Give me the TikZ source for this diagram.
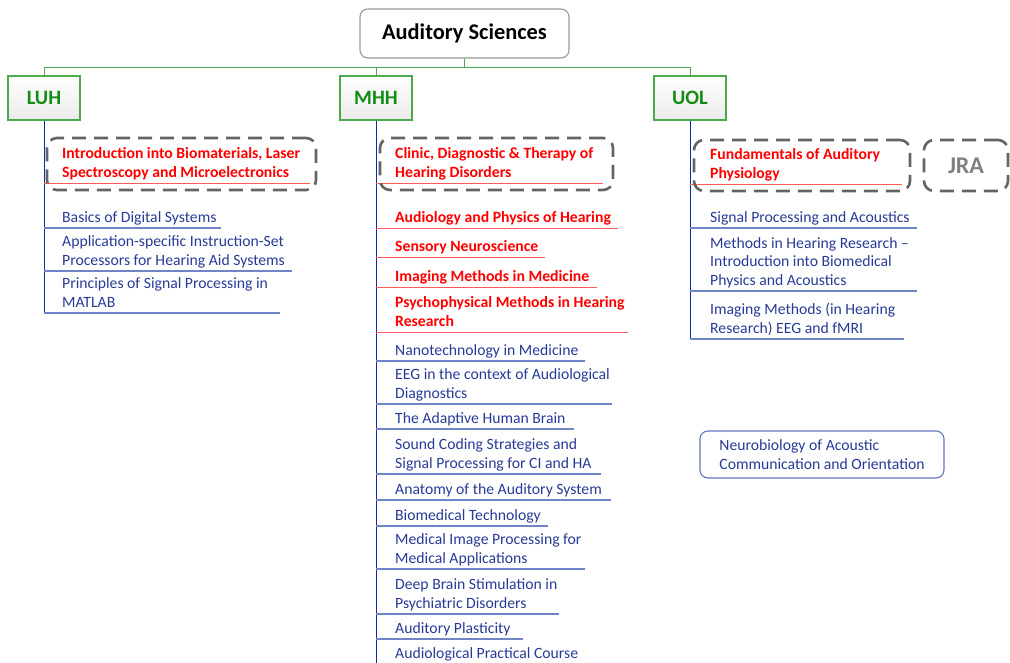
\documentclass[tikz,border=0pt]{standalone}
\usepackage{fontspec}
\setmainfont{Carlito}
\usetikzlibrary{positioning}

\definecolor{leafgreen}{RGB}{76,170,76}
\definecolor{unitext}{RGB}{20,140,20}
\definecolor{cooltxt}{RGB}{40,58,150}
\definecolor{coolrule}{RGB}{112,132,200}
\definecolor{trunkblue}{RGB}{20,40,170}
\definecolor{hottxt}{RGB}{255,0,0}
\definecolor{hotrule}{RGB}{255,90,90}
\definecolor{framegray}{RGB}{100,100,100}

\begin{document}
\begin{tikzpicture}[x=1pt, y=-1pt,
    head/.style={draw=gray!80, line width=1.1pt, rounded corners=8pt, fill=white,
      minimum width=209, minimum height=49, font=\fontsize{22.4}{26}\selectfont\bfseries},
    uni/.style={draw=leafgreen, line width=1.1pt, top color=white, bottom color=gray!16,
      minimum width=72, minimum height=44, text=unitext, font=\fontsize{20.4}{24}\selectfont\bfseries},
    branch/.style={draw=leafgreen, line width=1pt},
    trunk/.style={draw=trunkblue, line width=1pt},
    course/.style={anchor=south west, align=left, inner sep=0pt,
      font=\fontsize{15.7}{18.5}\selectfont,
      execute at end node={\rule[-5.5pt]{0pt}{5.5pt}}},
    hot/.style={course, text=hottxt, font=\fontsize{15.7}{18.5}\selectfont\bfseries},
    cool/.style={course, text=cooltxt},
    hotline/.style={draw=hotrule, line width=1pt},
    coolline/.style={draw=coolrule, line width=1.3pt},
    frame/.style={draw=framegray, line width=2.6pt, rounded corners=10pt,
      dash pattern=on 14pt off 8pt},
    boxed/.style={draw=coolrule!80!cooltxt, line width=1.1pt, rounded corners=8pt,
      text=cooltxt, align=left, font=\fontsize{15.7}{18.5}\selectfont}
  ]
\useasboundingbox (0,0) rectangle (1010,662);

% top of the tree
\node[head] (top) at (464.5,33.5) {Auditory Sciences};
\node[uni] (luh) at (44,98) {LUH};
\node[uni] (mhh) at (376,98) {MHH};
\node[uni] (uol) at (690,98) {UOL};

\draw[branch] (top.south) -- ++(0,9) -| (luh.north);
\draw[branch] (top.south) -- ++(0,9) -| (mhh.north);
\draw[branch] (top.south) -- ++(0,9) -| (uol.north);

% trunks
\coordinate (luhend) at (44,313);
\coordinate (mhhend) at (376,668);
\coordinate (uolend) at (690,339);
\draw[trunk] (luh.south) -- (luhend);
\draw[trunk] (mhh.south) -- (mhhend);
\draw[trunk] (uol.south) -- (uolend);

% LUH
\node[hot] (luh1) at (62,183) {Introduction into Biomaterials, Laser\\Spectroscopy and Microelectronics};
\draw[hotline] (luh1.south -| luh.south) -- (310,183);
\foreach \i/\y/\xe/\t in {
    2/228/221/{Basics of Digital Systems},
    3/271/292/{Application-specific Instruction-Set\\Processors for Hearing Aid Systems},
    4/313/280/{Principles of Signal Processing in\\MATLAB}} {
  \node[cool] (luh\i) at (62,\y) {\t};
  \draw[coolline] (luh\i.south -| luh.south) -- (\xe,\y);
}

% MHH
\foreach \i/\y/\xe/\t in {
    1/183/603/{Clinic, Diagnostic \& Therapy of\\Hearing Disorders},
    2/228/618/{Audiology and Physics of Hearing},
    3/257/545/{Sensory Neuroscience},
    4/287/597/{Imaging Methods in Medicine},
    5/332/628/{Psychophysical Methods in Hearing\\Research}} {
  \node[hot] (mhh\i) at (395,\y) {\t};
  \draw[hotline] (mhh\i.south -| mhh.south) -- (\xe,\y);
}
\foreach \i/\y/\xe/\t in {
    6/361/585/{Nanotechnology in Medicine},
    7/404/612/{EEG in the context of Audiological\\Diagnostics},
    8/429/574/{The Adaptive Human Brain},
    9/474/601/{Sound Coding Strategies and\\Signal Processing for CI and HA},
    10/500/611/{Anatomy of the Auditory System},
    11/526/548/{Biomedical Technology},
    12/569/585/{Medical Image Processing for\\Medical Applications},
    13/614/559/{Deep Brain Stimulation in\\Psychiatric Disorders},
    14/639/523/{Auditory Plasticity},
    15/664/592/{Audiological Practical Course}} {
  \node[cool] (mhh\i) at (395,\y) {\t};
  \draw[coolline] (mhh\i.south -| mhh.south) -- (\xe,\y);
}

% UOL
\node[hot] (uol1) at (710,184) {Fundamentals of Auditory\\Physiology};
\draw[hotline] (uol1.south -| uol.south) -- (902,184);
\foreach \i/\y/\xe/\t in {
    2/228/917/{Signal Processing and Acoustics},
    3/291/917/{Methods in Hearing Research --\\Introduction into Biomedical\\Physics and Acoustics},
    4/339/904/{Imaging Methods (in Hearing\\Research) EEG and fMRI}} {
  \node[cool] (uol\i) at (710,\y) {\t};
  \draw[coolline] (uol\i.south -| uol.south) -- (\xe,\y);
}

% dashed frames
\node[frame, minimum width=269, minimum height=52] (luhframe) at (181.5,164) {};
\node[frame, minimum width=233, minimum height=52] (mhhframe) at (496.5,164) {};
\node[frame, minimum width=216, minimum height=51] (uolframe) at (802,165.5) {};
\node[frame, minimum width=84, minimum height=51, text=gray,
  font=\fontsize{24}{28}\selectfont\bfseries] (jra) at (966,165.5) {JRA};

\node[boxed, minimum width=244, minimum height=47] (neuro) at (822,454.5)
  {Neurobiology of Acoustic\\Communication and Orientation};
\end{tikzpicture}
\end{document}
